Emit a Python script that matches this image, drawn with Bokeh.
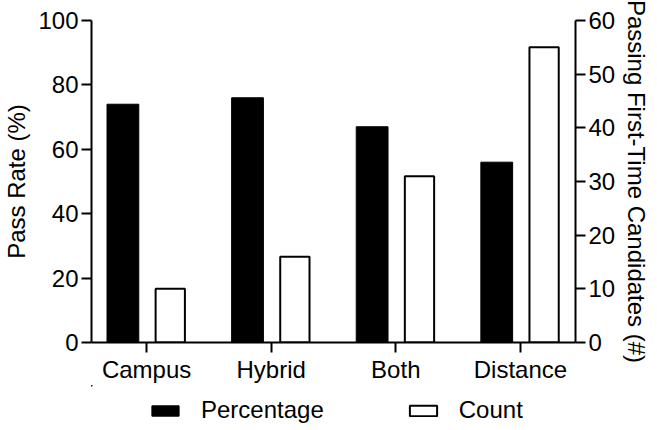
from bokeh.plotting import figure
from bokeh.layouts import column
from bokeh.models import (Range1d, LinearAxis, FixedTicker, Legend, LegendItem,
                          ColumnDataSource)
from bokeh.transform import dodge
from bokeh.embed import file_html
from bokeh.resources import INLINE

categories = ["Campus", "Hybrid", "Both", "Distance"]
percentage = [74, 76, 67, 56]
count = [10, 16, 31, 55]
left_ticks = [0, 20, 40, 60, 80, 100]
right_ticks = [0, 10, 20, 30, 40, 50, 60]
series_names = ["Percentage", "Count"]

FONT = "Liberation Sans"
FS = "24px"

xpos = list(range(len(categories)))
src = ColumnDataSource(dict(x=xpos, cat=categories, pct=percentage, cnt=count))

p = figure(frame_width=484, frame_height=322, output_backend="svg", toolbar_location=None,
           x_range=Range1d(-0.442, len(categories) - 1 + 0.442),
           y_range=Range1d(0, 100),
           min_border_left=0, min_border_right=0, min_border_top=20,
           min_border_bottom=0, y_axis_label="Pass Rate (%)")
p.extra_y_ranges = {"count": Range1d(0, 60)}

p.vbar(x=dodge("x", -0.19, range=p.x_range), top="pct", width=0.255,
       source=src, fill_color="black", line_color="black")
p.vbar(x=dodge("x", 0.19, range=p.x_range), top="cnt", width=0.235,
       source=src, fill_color="white", line_color="black", line_width=2,
       y_range_name="count")

right = LinearAxis(y_range_name="count", axis_label="Passing First-Time Candidates (#)")
p.add_layout(right, "right")

p.xaxis.ticker = FixedTicker(ticks=xpos)
p.xaxis.major_label_overrides = {i: c for i, c in zip(xpos, categories)}
p.yaxis[0].ticker = FixedTicker(ticks=left_ticks)
right.ticker = FixedTicker(ticks=right_ticks)

for ax in p.axis:
    ax.axis_line_width = 2
    ax.axis_line_color = "black"
    ax.major_tick_line_width = 2
    ax.major_tick_line_color = "black"
    ax.major_tick_out = 10
    ax.major_tick_in = 0
    ax.minor_tick_out = 0
    ax.minor_tick_in = 0
    ax.major_label_text_font = FONT
    ax.major_label_text_font_size = FS
    ax.major_label_text_color = "black"
    ax.major_label_standoff = 3
    ax.axis_label_text_font = FONT
    ax.axis_label_text_font_size = FS
    ax.axis_label_text_font_style = "normal"
    ax.axis_label_text_color = "black"
    ax.axis_label_standoff = 5

p.xaxis.major_label_standoff = 3
p.grid.visible = False
p.outline_line_color = None

# legend strip below the chart (its swatch renderers lie far outside the strip's view)
lg = figure(width=641, height=39, output_backend="svg", toolbar_location=None,
            x_range=Range1d(100, 101), y_range=Range1d(-2, -1),
            x_axis_type=None, y_axis_type=None, min_border=0)
lg.outline_line_color = None
l1 = lg.vbar(x="x", top="pct", width=0.255, source=src,
             fill_color="black", line_color="black")
l2 = lg.vbar(x="x", top="cnt", width=0.235, source=src,
             fill_color="white", line_color="black", line_width=2)
legend = Legend(items=[LegendItem(label=series_names[0], renderers=[l1]),
                       LegendItem(label=series_names[1], renderers=[l2])],
                orientation="horizontal", location=(57, 0),
                glyph_width=34, glyph_height=13, label_standoff=19, spacing=82,
                label_text_font=FONT, label_text_font_size=FS,
                label_text_color="black",
                border_line_color=None, background_fill_alpha=0,
                padding=2, margin=0)
lg.add_layout(legend, "center")

layout = column(p, lg, spacing=0)
open("out.html", "w").write(file_html(layout, INLINE))
